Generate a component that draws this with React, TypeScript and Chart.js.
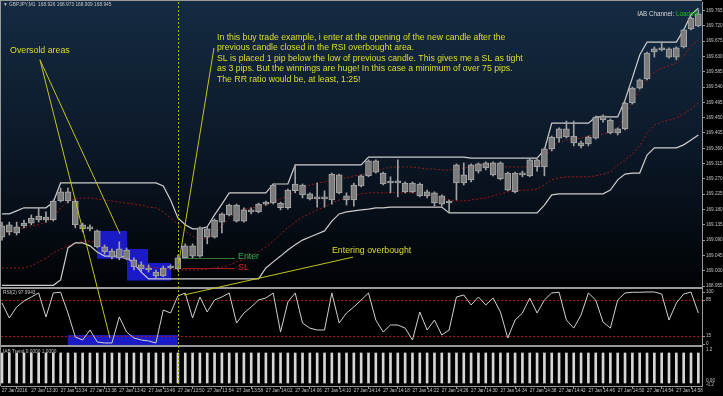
import React, { useEffect, useRef } from 'react';
import { Chart, registerables } from 'chart.js';

Chart.register(...registerables);

const FONT = '"Liberation Sans", Arial, Helvetica, sans-serif';

// ---------- data ----------
const xTickLabels = [
  '27 Jan 2016', '27 Jan 13:30', '27 Jan 13:34', '27 Jan 13:38', '27 Jan 13:42', '27 Jan 13:46',
  '27 Jan 13:50', '27 Jan 13:54', '27 Jan 13:58', '27 Jan 14:02', '27 Jan 14:06', '27 Jan 14:10',
  '27 Jan 14:14', '27 Jan 14:18', '27 Jan 14:22', '27 Jan 14:26', '27 Jan 14:30', '27 Jan 14:34',
  '27 Jan 14:38', '27 Jan 14:42', '27 Jan 14:46', '27 Jan 14:50', '27 Jan 14:54', '27 Jan 14:58',
];

const priceTicks = [
  168.955, 169.0, 169.045, 169.09, 169.135, 169.18, 169.225, 169.27, 169.315, 169.36,
  169.405, 169.45, 169.495, 169.54, 169.585, 169.63, 169.675, 169.72, 169.765,
];

const open = [
  169.099, 169.135, 169.111, 169.132, 169.140, 169.149, 169.158, 169.149, 169.205, 169.232,
  169.205, 169.135, 169.129, 169.117, 169.070, 169.058, 169.038, 169.061, 169.032, 169.017,
  169.008, 168.996, 168.985, 169.008, 169.005, 169.038, 169.073, 169.043, 169.123, 169.099,
  169.143, 169.164, 169.193, 169.146, 169.179, 169.173, 169.196, 169.199, 169.199, 169.185,
  169.235, 169.252, 169.226, 169.211, 169.214, 169.208, 169.282, 169.220, 169.208, 169.249,
  169.279, 169.323, 169.287, 169.258, 169.258, 169.232, 169.258, 169.255, 169.232, 169.229,
  169.196, 169.202, 169.258, 169.282, 169.267, 169.293, 169.317, 169.282, 169.317, 169.287,
  169.232, 169.287, 169.279, 169.326, 169.305, 169.358, 169.390, 169.417, 169.396, 169.376,
  169.373, 169.390, 169.455, 169.443, 169.405, 169.417, 169.493, 169.537, 169.564, 169.652,
  169.649, 169.652, 169.628, 169.658, 169.711, 169.755,
];
const high = [
  169.143, 169.143, 169.143, 169.149, 169.164, 169.185, 169.173, 169.208, 169.243, 169.243,
  169.208, 169.140, 169.135, 169.120, 169.076, 169.064, 169.085, 169.067, 169.038, 169.026,
  169.017, 169.002, 169.014, 169.017, 169.046, 169.079, 169.079, 169.129, 169.129, 169.152,
  169.170, 169.196, 169.196, 169.185, 169.185, 169.199, 169.205, 169.255, 169.202, 169.240,
  169.311, 169.255, 169.229, 169.258, 169.235, 169.287, 169.284, 169.229, 169.258, 169.282,
  169.326, 169.326, 169.290, 169.276, 169.326, 169.261, 169.261, 169.258, 169.237, 169.232,
  169.223, 169.208, 169.314, 169.317, 169.314, 169.317, 169.320, 169.320, 169.320, 169.290,
  169.290, 169.293, 169.328, 169.328, 169.361, 169.396, 169.420, 169.440, 169.440, 169.381,
  169.396, 169.455, 169.458, 169.446, 169.420, 169.496, 169.540, 169.564, 169.643, 169.658,
  169.672, 169.655, 169.658, 169.711, 169.746, 169.767,
];
const low = [
  169.090, 169.105, 169.105, 169.126, 169.135, 169.143, 169.143, 169.146, 169.202, 169.199,
  169.126, 169.114, 169.117, 169.067, 169.049, 169.035, 169.032, 169.032, 169.002, 168.996,
  168.996, 168.979, 168.982, 169.005, 169.002, 169.035, 169.038, 169.040, 169.079, 169.096,
  169.111, 169.161, 169.143, 169.143, 169.167, 169.170, 169.193, 169.196, 169.179, 169.181,
  169.229, 169.214, 169.208, 169.187, 169.187, 169.196, 169.226, 169.193, 169.190, 169.246,
  169.276, 169.287, 169.252, 169.229, 169.217, 169.229, 169.229, 169.217, 169.214, 169.190,
  169.190, 169.173, 169.208, 169.252, 169.261, 169.287, 169.296, 169.279, 169.267, 169.235,
  169.229, 169.276, 169.276, 169.293, 169.279, 169.352, 169.378, 169.390, 169.367, 169.361,
  169.367, 169.387, 169.437, 169.402, 169.399, 169.414, 169.490, 169.534, 169.561, 169.628,
  169.646, 169.625, 169.620, 169.655, 169.708, 169.717,
];
const close = [
  169.132, 169.114, 169.129, 169.140, 169.155, 169.161, 169.149, 169.205, 169.232, 169.205,
  169.135, 169.123, 169.123, 169.070, 169.055, 169.040, 169.064, 169.035, 169.011, 169.005,
  169.002, 168.985, 169.008, 169.014, 169.038, 169.073, 169.043, 169.126, 169.099, 169.149,
  169.167, 169.193, 169.146, 169.179, 169.173, 169.196, 169.202, 169.252, 169.185, 169.237,
  169.255, 169.223, 169.211, 169.214, 169.211, 169.284, 169.229, 169.208, 169.252, 169.279,
  169.323, 169.290, 169.255, 169.261, 169.264, 169.258, 169.232, 169.220, 169.220, 169.199,
  169.220, 169.199, 169.311, 169.258, 169.311, 169.314, 169.302, 169.317, 169.270, 169.237,
  169.287, 169.282, 169.326, 169.305, 169.358, 169.393, 169.417, 169.393, 169.376, 169.367,
  169.393, 169.452, 169.443, 169.405, 169.417, 169.493, 169.537, 169.561, 169.640, 169.643,
  169.655, 169.628, 169.655, 169.708, 169.743, 169.720,
];

const channelUpper = [
  169.167, 169.167, 169.176, 169.185, 169.185, 169.185, 169.185, 169.202, 169.258, 169.258,
  169.258, 169.258, 169.258, 169.258, 169.258, 169.258, 169.258, 169.258, 169.258, 169.258,
  169.258, 169.258, 169.249, 169.208, 169.155, 169.135, 169.123, 169.123, 169.129, 169.164,
  169.196, 169.229, 169.229, 169.229, 169.229, 169.229, 169.229, 169.255, 169.255, 169.255,
  169.311, 169.311, 169.311, 169.311, 169.311, 169.311, 169.311, 169.311, 169.311, 169.311,
  169.334, 169.334, 169.334, 169.334, 169.334, 169.334, 169.334, 169.334, 169.334, 169.334,
  169.334, 169.334, 169.334, 169.334, 169.331, 169.331, 169.331, 169.331, 169.331, 169.331,
  169.331, 169.331, 169.331, 169.331, 169.355, 169.434, 169.434, 169.434, 169.434, 169.434,
  169.434, 169.452, 169.452, 169.452, 169.452, 169.502, 169.567, 169.634, 169.672, 169.672,
  169.672, 169.672, 169.672, 169.708, 169.752, 169.772,
];
const channelLower = [
  168.957, 168.957, 168.957, 168.957, 168.957, 168.957, 168.957, 168.957, 168.973, 169.067,
  169.082, 169.082, 169.073, 169.055, 169.043, 169.043, 169.043, 169.040, 169.020, 168.996,
  168.976, 168.976, 168.976, 168.976, 168.976, 168.976, 168.976, 168.976, 168.976, 168.976,
  168.976, 168.976, 168.976, 168.976, 168.976, 168.976, 169.008, 169.026, 169.043, 169.061,
  169.076, 169.090, 169.099, 169.108, 169.117, 169.146, 169.167, 169.173, 169.176, 169.179,
  169.181, 169.185, 169.185, 169.187, 169.187, 169.187, 169.187, 169.187, 169.187, 169.187,
  169.187, 169.170, 169.170, 169.170, 169.170, 169.170, 169.170, 169.170, 169.170, 169.170,
  169.170, 169.170, 169.170, 169.170, 169.193, 169.223, 169.226, 169.226, 169.226, 169.226,
  169.226, 169.226, 169.226, 169.237, 169.267, 169.284, 169.287, 169.287, 169.340, 169.361,
  169.361, 169.361, 169.361, 169.370, 169.384, 169.399,
];
const channelMidUpper = [
  169.111, 169.114, 169.120, 169.126, 169.132, 169.135, 169.143, 169.158, 169.185, 169.205,
  169.211, 169.214, 169.214, 169.211, 169.208, 169.205, 169.202, 169.199, 169.196, 169.193,
  169.187, 169.185, 169.173, 169.155, 169.137, 169.117, 169.102, 169.090, 169.096, 169.111,
  169.132, 169.155, 169.173, 169.181, 169.185, 169.187, 169.193, 169.202, 169.211, 169.220,
  169.232, 169.243, 169.252, 169.258, 169.261, 169.267, 169.270, 169.273, 169.279, 169.282,
  169.287, 169.293, 169.299, 169.305, 169.305, 169.305, 169.305, 169.302, 169.299, 169.299,
  169.296, 169.296, 169.299, 169.302, 169.305, 169.308, 169.311, 169.311, 169.308, 169.305,
  169.305, 169.305, 169.305, 169.308, 169.331, 169.367, 169.378, 169.384, 169.387, 169.390,
  169.396, 169.399, 169.402, 169.408, 169.417, 169.458, 169.496, 169.531, 169.567, 169.584,
  169.596, 169.602, 169.611, 169.631, 169.661, 169.678,
];
const channelMidLower = [
  169.008, 169.008, 169.008, 169.008, 169.014, 169.026, 169.037, 169.052, 169.064, 169.073,
  169.082, 169.087, 169.087, 169.084, 169.073, 169.058, 169.046, 169.034, 169.023, 169.014,
  169.011, 169.008, 169.005, 169.005, 169.002, 169.002, 169.002, 169.002, 169.005, 169.008,
  169.011, 169.017, 169.026, 169.034, 169.043, 169.055, 169.070, 169.087, 169.108, 169.126,
  169.143, 169.158, 169.167, 169.179, 169.187, 169.199, 169.208, 169.214, 169.220, 169.226,
  169.229, 169.229, 169.229, 169.229, 169.229, 169.229, 169.229, 169.226, 169.223, 169.217,
  169.214, 169.208, 169.205, 169.205, 169.208, 169.211, 169.214, 169.220, 169.226, 169.232,
  169.234, 169.237, 169.237, 169.240, 169.252, 169.267, 169.273, 169.276, 169.276, 169.276,
  169.276, 169.279, 169.284, 169.290, 169.311, 169.326, 169.343, 169.367, 169.405, 169.428,
  169.437, 169.443, 169.449, 169.461, 169.475, 169.493,
];

const rsi2 = [
  78.6, 49.5, 70.9, 82.5, 90.3, 98.1, 51.5, 98.1, 99.5, 59.2,
  12.6, 6.8, 26.2, 2.9, 1.0, 1.0, 51.5, 22.3, 10.7, 6.8,
  4.9, 1.0, 65.0, 59.2, 92.2, 98.0, 49.5, 90.3, 61.2, 84.5,
  90.3, 98.1, 39.8, 59.2, 70.9, 84.5, 88.3, 98.1, 22.3, 80.6,
  98.1, 39.8, 29.9, 26.2, 26.2, 98.1, 39.8, 59.2, 70.9, 84.5,
  98.1, 45.6, 22.3, 35.9, 35.9, 29.9, 6.8, 61.2, 26.2, 45.6,
  16.5, 26.2, 90.3, 94.2, 74.8, 90.3, 74.8, 88.3, 61.2, 10.7,
  45.6, 59.2, 88.3, 59.2, 84.5, 98.1, 99.5, 45.6, 29.9, 55.3,
  98.1, 84.5, 41.7, 29.9, 84.5, 98.1, 99.5, 99.5, 100, 100,
  96.1, 45.6, 78.6, 96.1, 99.8, 59.2,
];

const iabTrend = [
  1, 1, 1, 1, 1, 1, 1, 1, 1, 1, 1, 1, 1, 1, 1, 1,
  1, 1, 1, 1, 1, 1, 1, 1, 1, 1, 1, 1, 1, 1, 1, 1,
  1, 1, 1, 1, 1, 1, 1, 1, 1, 1, 1, 1, 1, 1, 1, 1,
  1, 1, 1, 1, 1, 1, 1, 1, 1, 1, 1, 1, 1, 1, 1, 1,
  1, 1, 1, 1, 1, 1, 1, 1, 1, 1, 1, 1, 1, 1, 1, 1,
  1, 1, 1, 1, 1, 1, 1, 1, 1, 1, 1, 1, 1, 1, 1, 1,
];

const rsiLevels = [85, 15];
const rsiAxisLabels = [100, 85, 15, 0];

const noteLines = [
  'In this buy trade example, i enter at the opening of the new candle after the',
  'previous candle closed in the RSI overbought area.',
  'SL is placed 1 pip below the low of previous candle. This gives me a SL as tight',
  'as 3 pips. But the winnings are huge! In this case a minimum of over 75 pips.',
  'The RR ratio would be, at least, 1:25!',
];

// annotation anchors in data units (candle index, price / RSI value)
const priceBoxes = [
  { from: 12.96, to: 17.05, top: 169.117, bottom: 169.035 },
  { from: 17.05, to: 19.92, top: 169.064, bottom: 168.971 },
  { from: 19.92, to: 23.06, top: 169.023, bottom: 168.971 },
];
const rsiBox = { from: 8.96, to: 23.97, top: 16.5, bottom: -4.5 };
const oversoldNote = { at: 1.1, price: 169.647 };
const oversoldFrom = { at: 5.18, price: 169.62 };
const oversoldToPrice = { at: 16.1, price: 169.108 };
const oversoldToRsi = { at: 14.73, rsi: 10.7 };
const entryNote = { at: 29.33, price: 169.685 };
const entryFrom = { at: 28.92, price: 169.655 };
const entryTo = { at: 24.15, price: 169.026 };
const overboughtNote = { at: 45.02, price: 169.058 };
const overboughtFrom = { at: 47.89, price: 169.04 };
const overboughtTo = { at: 24.83, rsi: 94.2 };
const enterLevel = { price: 169.0365, from: 24.56, to: 31.79, labelAt: 32.2, labelPrice: 169.041 };
const stopLevel = { price: 169.007, from: 24.56, to: 31.79, labelAt: 32.2, labelPrice: 169.01 };
const signalBar = 24;

// ---------- layout ----------
const W = 723;
const H = 396;
const AREA_TOP = 2;
const AREA_BOTTOM = 386;
const AXIS_W = 21;
const MAIN_BOTTOM = 287;
const RSI_TOP = 289;
const RSI_BOTTOM = 345;
const TREND_TOP = 347;

const YELLOW_TEXT = '#dede28';
const YELLOW_LINE = '#c4c418';
const SEP = '#9a9a9a';
const AXIS_TEXT = '#c4c4c4';

function App() {
  const canvasRef = useRef<HTMLCanvasElement | null>(null);

  useEffect(() => {
    const canvas = canvasRef.current;
    if (!canvas) return;

    const pts = (arr: number[]) => arr.map((v, i) => ({ x: i, y: v }));
    const bodies = open.map((o, i) => ({ x: i, y: [Math.min(o, close[i]), Math.max(o, close[i])] }));
    const wicks = low.map((l, i) => ({ x: i, y: [l, high[i]] }));

    const mainClip = { left: 0, top: 0, right: 0, bottom: -(AREA_BOTTOM - MAIN_BOTTOM) };
    const rsiClip = { left: 0, top: -(RSI_TOP - AREA_TOP), right: 0, bottom: -(AREA_BOTTOM - RSI_BOTTOM) };
    const trendClip = { left: 0, top: -(TREND_TOP - AREA_TOP), right: 0, bottom: 0 };

    const drawText = (ctx: any, s: string, x: number, y: number, color: string, size: number, align = 'left') => {
      ctx.fillStyle = color;
      ctx.font = `${size}px ${FONT}`;
      ctx.textAlign = align;
      ctx.textBaseline = 'middle';
      ctx.fillText(s, x, y);
    };
    const seg = (ctx: any, x0: number, y0: number, x1: number, y1: number) => {
      ctx.beginPath();
      ctx.moveTo(x0, y0);
      ctx.lineTo(x1, y1);
      ctx.stroke();
    };

    const panels = {
      id: 'panels',
      beforeDraw(chart: any) {
        const { ctx, chartArea: a } = chart;
        ctx.save();
        ctx.fillStyle = '#000';
        ctx.fillRect(0, 0, chart.width, chart.height);
        const g = ctx.createLinearGradient(0, 0, 0, MAIN_BOTTOM);
        g.addColorStop(0, '#152b42');
        g.addColorStop(0.5, '#0c1929');
        g.addColorStop(1, '#010305');
        ctx.fillStyle = g;
        ctx.fillRect(a.left, 0, a.right - a.left, MAIN_BOTTOM);
        ctx.restore();
      },
      beforeDatasetsDraw(chart: any) {
        const { ctx, chartArea: a, scales } = chart;
        const X = scales.x;
        const Y = scales.y;
        const R = scales.yRsi;
        ctx.save();
        ctx.fillStyle = '#1a1ac6';
        for (const b of priceBoxes) {
          const x0 = X.getPixelForValue(b.from);
          const x1 = X.getPixelForValue(b.to);
          const y0 = Y.getPixelForValue(b.top);
          const y1 = Y.getPixelForValue(b.bottom);
          ctx.fillRect(x0, y0, x1 - x0, y1 - y0);
        }
        {
          const x0 = X.getPixelForValue(rsiBox.from);
          const x1 = X.getPixelForValue(rsiBox.to);
          const y0 = R.getPixelForValue(rsiBox.top);
          const y1 = R.getPixelForValue(rsiBox.bottom);
          ctx.fillRect(x0, y0, x1 - x0, y1 - y0);
        }
        ctx.strokeStyle = '#a01414';
        ctx.lineWidth = 1;
        ctx.setLineDash([2, 2]);
        for (const lv of rsiLevels) {
          const y = Math.round(R.getPixelForValue(lv)) + 0.5;
          seg(ctx, a.left, y, a.right, y);
        }
        ctx.restore();
      },
      afterDatasetsDraw(chart: any) {
        const { ctx, chartArea: a, scales } = chart;
        const X = scales.x;
        const Y = scales.y;
        const R = scales.yRsi;
        const T = scales.yTrend;
        ctx.save();

        // separators & frame
        ctx.fillStyle = SEP;
        ctx.fillRect(0, MAIN_BOTTOM, a.right, RSI_TOP - MAIN_BOTTOM);
        ctx.fillRect(0, RSI_BOTTOM, a.right, TREND_TOP - RSI_BOTTOM);
        ctx.fillRect(0, 0, a.right, 1);
        ctx.fillRect(0, 0, 1, a.bottom);

        // signal bar dotted vertical
        ctx.strokeStyle = '#b0b000';
        ctx.lineWidth = 1;
        ctx.setLineDash([2, 2]);
        const vx = Math.round(X.getPixelForValue(signalBar)) + 0.5;
        seg(ctx, vx, a.top, vx, a.bottom);
        ctx.setLineDash([]);

        // enter / SL levels
        ctx.lineWidth = 1;
        ctx.strokeStyle = '#2f7a34';
        let yy = Math.round(Y.getPixelForValue(enterLevel.price)) + 0.5;
        seg(ctx, X.getPixelForValue(enterLevel.from), yy, X.getPixelForValue(enterLevel.to), yy);
        ctx.strokeStyle = '#a01c1c';
        yy = Math.round(Y.getPixelForValue(stopLevel.price)) + 0.5;
        seg(ctx, X.getPixelForValue(stopLevel.from), yy, X.getPixelForValue(stopLevel.to), yy);
        drawText(ctx, 'Enter', X.getPixelForValue(enterLevel.labelAt), Y.getPixelForValue(enterLevel.labelPrice), '#34b052', 8.8);
        drawText(ctx, 'SL', X.getPixelForValue(stopLevel.labelAt), Y.getPixelForValue(stopLevel.labelPrice), '#e02424', 8.8);

        // yellow pointer lines
        ctx.strokeStyle = YELLOW_LINE;
        ctx.lineWidth = 1;
        const ox = X.getPixelForValue(oversoldFrom.at);
        const oy = Y.getPixelForValue(oversoldFrom.price);
        seg(ctx, ox, oy, X.getPixelForValue(oversoldToPrice.at), Y.getPixelForValue(oversoldToPrice.price));
        seg(ctx, ox, oy, X.getPixelForValue(oversoldToRsi.at), R.getPixelForValue(oversoldToRsi.rsi));
        seg(ctx, X.getPixelForValue(entryFrom.at), Y.getPixelForValue(entryFrom.price),
          X.getPixelForValue(entryTo.at), Y.getPixelForValue(entryTo.price));
        seg(ctx, X.getPixelForValue(overboughtFrom.at), Y.getPixelForValue(overboughtFrom.price),
          X.getPixelForValue(overboughtTo.at), R.getPixelForValue(overboughtTo.rsi));

        // notes
        drawText(ctx, 'Oversold areas', X.getPixelForValue(oversoldNote.at), Y.getPixelForValue(oversoldNote.price), YELLOW_TEXT, 8.8);
        const nx = X.getPixelForValue(entryNote.at);
        const ny = Y.getPixelForValue(entryNote.price);
        noteLines.forEach((s, k) => drawText(ctx, s, nx, ny + k * 10.35, YELLOW_TEXT, 8.7));
        drawText(ctx, 'Entering overbought', X.getPixelForValue(overboughtNote.at), Y.getPixelForValue(overboughtNote.price), YELLOW_TEXT, 8.8);

        // header / panel captions
        drawText(ctx, '\u25BC GBPJPY,M1  168.926 168.973 168.909 168.945', 3, 5, AXIS_TEXT, 4.8);
        drawText(ctx, 'RSI(2) 97.9943', 3, RSI_TOP + 3.5, AXIS_TEXT, 4.8);
        drawText(ctx, 'IAB Trend 0.0000 1.0000', 3, TREND_TOP + 4.5, AXIS_TEXT, 4.8);
        ctx.font = `6.3px ${FONT}`;
        const wLoaded = ctx.measureText('Loaded').width;
        drawText(ctx, 'Loaded', a.right - 5 - wLoaded, 14.5, '#1fc21f', 6.3);
        drawText(ctx, 'IAB Channel: ', a.right - 5 - wLoaded, 14.5, '#d8d8d8', 6.3, 'right');

        // right-side labels for RSI and trend panels
        ctx.strokeStyle = SEP;
        ctx.lineWidth = 1;
        for (const v of rsiAxisLabels) {
          const y = R.getPixelForValue(v);
          seg(ctx, a.right, Math.round(y) + 0.5, a.right + 3, Math.round(y) + 0.5);
          drawText(ctx, String(v), a.right + 4, y, AXIS_TEXT, 4.6);
        }
        ctx.fillStyle = AXIS_TEXT;
        ctx.font = `4.6px ${FONT}`;
        ctx.textAlign = 'left';
        ctx.textBaseline = 'top';
        ctx.fillText('1.2', a.right + 4, T.getPixelForValue(1.2));
        ctx.textBaseline = 'bottom';
        ctx.fillText('0.00', a.right + 4, T.getPixelForValue(0));
        ctx.textBaseline = 'top';
        ctx.fillText('-0.2', a.right + 4, T.getPixelForValue(0) - 1);
        ctx.restore();
      },
    };

    const chart = new Chart(canvas, {
      type: 'line',
      data: {
        datasets: [
          {
            type: 'bar', data: bodies, yAxisID: 'y', barThickness: 6, minBarLength: 2,
            backgroundColor: '#7c7c7c', borderColor: '#a8a8a8', borderWidth: 1, borderSkipped: false,
            grouped: false, clip: mainClip, order: 1,
          } as any,
          {
            type: 'bar', data: wicks, yAxisID: 'y', barThickness: 1, backgroundColor: '#a0a0a0',
            borderWidth: 0, grouped: false, clip: mainClip, order: 2,
          } as any,
          {
            type: 'line', data: pts(channelUpper), yAxisID: 'y', borderColor: '#cdcdcd', borderWidth: 1.2,
            pointRadius: 0, tension: 0, clip: mainClip, order: 3,
          },
          {
            type: 'line', data: pts(channelLower), yAxisID: 'y', borderColor: '#cdcdcd', borderWidth: 1.2,
            pointRadius: 0, tension: 0, clip: mainClip, order: 3,
          },
          {
            type: 'line', data: pts(channelMidUpper), yAxisID: 'y', borderColor: '#9a1818', borderWidth: 1,
            borderDash: [2, 2], pointRadius: 0, tension: 0, clip: mainClip, order: 4,
          },
          {
            type: 'line', data: pts(channelMidLower), yAxisID: 'y', borderColor: '#9a1818', borderWidth: 1,
            borderDash: [2, 2], pointRadius: 0, tension: 0, clip: mainClip, order: 4,
          },
          {
            type: 'line', data: pts(rsi2), yAxisID: 'yRsi', borderColor: '#d0d0d0', borderWidth: 1,
            pointRadius: 0, tension: 0, clip: rsiClip, order: 5,
          },
          {
            type: 'bar', data: pts(iabTrend), yAxisID: 'yTrend', barThickness: 2, backgroundColor: '#d6d6d6',
            borderWidth: 0, grouped: false, clip: trendClip, order: 6,
          } as any,
        ],
      },
      options: {
        responsive: false,
        animation: false,
        devicePixelRatio: 1,
        events: [],
        layout: { padding: { left: 1, top: AREA_TOP, right: 0, bottom: 0 } },
        plugins: { legend: { display: false }, tooltip: { enabled: false } },
        scales: {
          x: {
            type: 'linear', position: 'bottom', min: -0.136, max: 95.5, offset: false, bounds: 'data',
            afterBuildTicks: (s: any) => { s.ticks = xTickLabels.map((_, k) => ({ value: k * 4 })); },
            afterFit: (s: any) => { s.height = H - AREA_BOTTOM; s.paddingLeft = 0; s.paddingRight = 0; },
            ticks: {
              autoSkip: false, maxRotation: 0, minRotation: 0, align: 'start', padding: -1,
              color: AXIS_TEXT, font: { family: FONT, size: 4.6 },
              callback: (_v: any, i: number) => xTickLabels[i],
            },
            grid: { drawOnChartArea: false, drawTicks: true, tickLength: 3, color: SEP },
            border: { display: true, color: SEP },
          },
          y: {
            type: 'linear', position: 'right', min: 168.6611, max: 169.79, bounds: 'data',
            afterBuildTicks: (s: any) => { s.ticks = priceTicks.map((v) => ({ value: v })); },
            afterFit: (s: any) => { s.width = AXIS_W; s.paddingTop = 0; s.paddingBottom = 0; },
            ticks: {
              autoSkip: false, padding: 1, color: AXIS_TEXT, font: { family: FONT, size: 4.6 },
              callback: (v: any) => Number(v).toFixed(3),
            },
            grid: { drawOnChartArea: false, drawTicks: true, tickLength: 3, color: SEP },
            border: { display: true, color: SEP },
          },
          yRsi: { type: 'linear', display: false, min: -82.52, max: 663.11, bounds: 'data' },
          yTrend: { type: 'linear', display: false, min: -0.1, max: 12.7, bounds: 'data' },
        },
      } as any,
      plugins: [panels],
    });

    return () => chart.destroy();
  }, []);

  return (
    <div style={{ position: 'fixed', left: 0, top: 0, width: W, height: H, background: '#000', overflow: 'hidden' }}>
      <canvas ref={canvasRef} width={W} height={H} style={{ display: 'block', width: W, height: H }} />
    </div>
  );
}

export default App;
